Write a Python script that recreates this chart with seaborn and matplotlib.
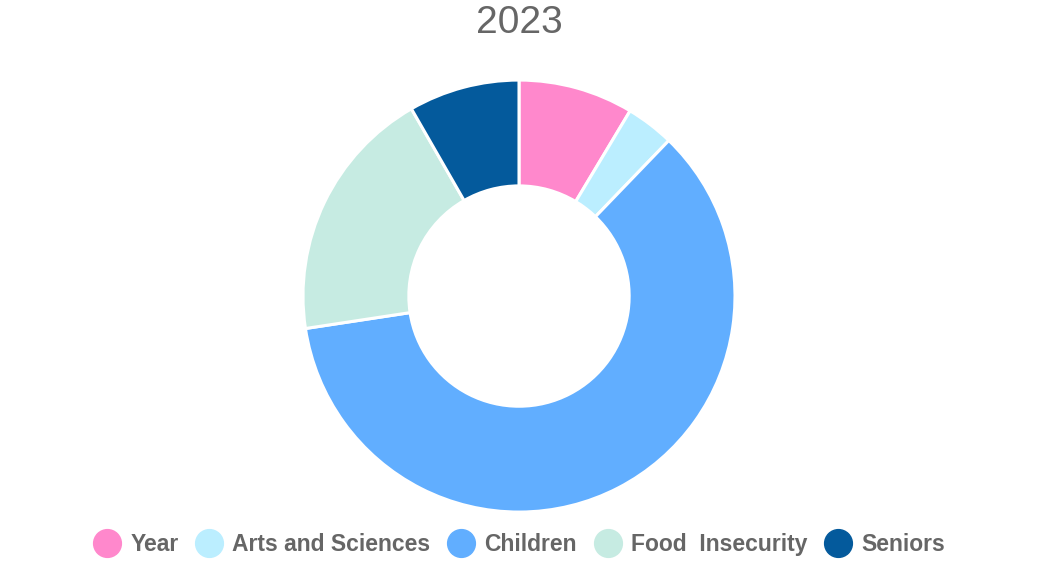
import matplotlib
matplotlib.use("Agg")
import matplotlib.pyplot as plt
import seaborn as sns
from matplotlib.lines import Line2D

categories = ["Year", "Arts and Sciences", "Children", "Food  Insecurity", "Seniors"]
values = [8.6, 3.6, 60.4, 19.1, 8.3]
colors = ["#FF88CC", "#BBEEFF", "#61AEFF", "#C6EBE2", "#045A9C"]
title = "2023"

sns.set_theme(style="white")
plt.rcParams['font.family'] = ['Liberation Sans', 'DejaVu Sans']

fig = plt.figure(figsize=(10.38, 5.76), dpi=100)
ax = fig.add_axes([0.2919, 0.111, 0.4162, 0.75])
ax.pie(values, colors=colors, startangle=90, counterclock=False, radius=1,
       wedgeprops=dict(width=0.49, edgecolor="white", linewidth=2.2))
ax.set_xlim(-1, 1)
ax.set_ylim(-1, 1)
ax.set_aspect("equal")
ax.axis("off")

fig.text(0.5, 0.96, title, ha="center", va="center", fontsize=28, color="#666666")

handles = [Line2D([0], [0], marker="o", linestyle="", markersize=20,
                  markerfacecolor=c, markeredgecolor=c) for c in colors]
leg = fig.legend(handles, categories, loc="center", bbox_to_anchor=(0.498, 0.055),
                 ncol=5, frameon=False, handletextpad=0.2, columnspacing=0.55,
                 prop=dict(weight="bold", size=16.5), handlelength=1.6)
for t in leg.get_texts():
    t.set_color("#666666")

fig.savefig("out.png", dpi=100, facecolor="white")
